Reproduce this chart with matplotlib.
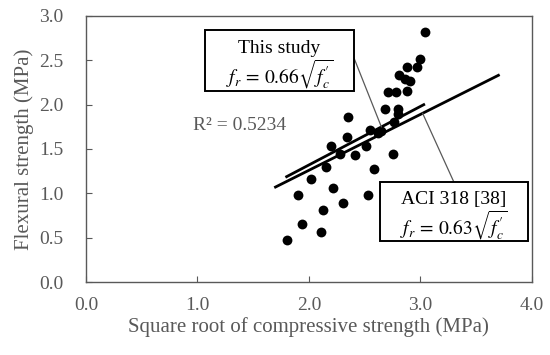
import numpy as np
import matplotlib
matplotlib.use("Agg")
import matplotlib.pyplot as plt
from matplotlib.patches import Rectangle

plt.rcParams['font.family'] = ['Liberation Serif', 'DejaVu Serif']
plt.rcParams['mathtext.fontset'] = 'stix'

# square root of compressive strength (MPa) vs flexural strength (MPa)
sqrt_fc = [1.80, 1.94, 2.11, 2.13, 2.31, 1.90, 2.22, 2.53, 2.02, 2.15,
           2.58, 2.20, 2.28, 2.41, 2.51, 2.75, 2.34, 2.35, 2.55, 2.62,
           2.68, 2.80, 2.80, 2.76, 2.71, 2.78, 2.88, 2.81, 2.86, 2.91,
           2.88, 2.97, 3.00, 3.04, 2.65]
fr = [0.47, 0.65, 0.56, 0.81, 0.89, 0.98, 1.06, 0.98, 1.16, 1.30,
      1.27, 1.53, 1.44, 1.43, 1.53, 1.44, 1.64, 1.86, 1.71, 1.68,
      1.95, 1.95, 1.90, 1.80, 2.14, 2.14, 2.15, 2.33, 2.29, 2.27,
      2.43, 2.42, 2.51, 2.82, 1.70]

coef_study = 0.66
range_study = [1.80, 3.03]
coef_aci = 0.63
range_aci = [1.70, 3.70]
r2_text = "R\u00b2 = 0.5234"
label_study = "This study"
label_aci = "ACI 318 [38]"

GRAY = '#595959'

fig = plt.figure(figsize=(5.5, 3.55), dpi=100)
ax = fig.add_axes([0.1564, 0.2056, 0.8106, 0.7494])

ax.scatter(sqrt_fc, fr, s=50, color='black', zorder=3, linewidths=0)

xs = np.array(range_study)
ax.plot(xs, coef_study * xs, color='black', lw=2.0, zorder=2)
xa = np.array(range_aci)
ax.plot(xa, coef_aci * xa, color='black', lw=2.0, zorder=2)

ax.set_xlim(0, 4)
ax.set_ylim(0, 3)
ax.set_xticks(np.arange(0, 4.01, 1.0))
ax.set_yticks(np.arange(0, 3.01, 0.5))
ax.set_xticklabels([f"{v:.1f}" for v in np.arange(0, 4.01, 1.0)])
ax.set_yticklabels([f"{v:.1f}" for v in np.arange(0, 3.01, 0.5)])
ax.tick_params(axis='both', direction='in', length=4, width=0.8,
               color=GRAY, labelcolor=GRAY, labelsize=14)
ax.tick_params(axis='y', pad=16)
ax.tick_params(axis='x', pad=11)
for sp in ax.spines.values():
    sp.set_color(GRAY)
    sp.set_linewidth(1.0)

ax.set_xlabel("Square root of compressive strength (MPa)", color=GRAY,
              fontsize=15, labelpad=2)
ax.set_ylabel("Flexural strength (MPa)", color=GRAY, fontsize=15, labelpad=4)

ax.text(0.96, 1.76, r2_text, color=GRAY, fontsize=14, va='center', ha='left')

# annotation boxes (x0, y0, x1, y1 in data units)
box1 = (1.067, 2.153, 2.404, 2.841)
box2 = (2.637, 0.462, 3.964, 1.127)
for b in (box1, box2):
    ax.add_patch(Rectangle((b[0], b[1]), b[2] - b[0], b[3] - b[1],
                           fc='white', ec='black', lw=1.4, zorder=4))

cx1, cy1 = (box1[0] + box1[2]) / 2, (box1[1] + box1[3]) / 2
ax.text(cx1, cy1 + 0.14, label_study, ha='center', va='center',
        fontsize=14, zorder=5)
ax.text(cx1, cy1 - 0.15, r"$f_r\,=\,0.66\sqrt{f_c^{\prime}}$", ha='center',
        va='center', fontsize=14, zorder=5)

cx2, cy2 = (box2[0] + box2[2]) / 2, (box2[1] + box2[3]) / 2
ax.text(cx2, cy2 + 0.14, label_aci, ha='center', va='center',
        fontsize=14, zorder=5)
ax.text(cx2, cy2 - 0.15, r"$f_r\,=\,0.63\sqrt{f_c^{\prime}}$", ha='center',
        va='center', fontsize=14, zorder=5)

# leader lines from boxes to the fit lines
xp = 2.65
ax.annotate('', xy=(xp, coef_study * xp), xytext=(box1[2], cy1 + 0.03),
            arrowprops=dict(arrowstyle='-', color=GRAY, lw=0.9,
                            shrinkA=0, shrinkB=0), zorder=3)
xq = 3.02
ax.annotate('', xy=(xq, coef_aci * xq), xytext=(cx2, box2[3]),
            arrowprops=dict(arrowstyle='-', color=GRAY, lw=0.9,
                            shrinkA=0, shrinkB=0), zorder=3)

fig.savefig("out.png", dpi=100)
